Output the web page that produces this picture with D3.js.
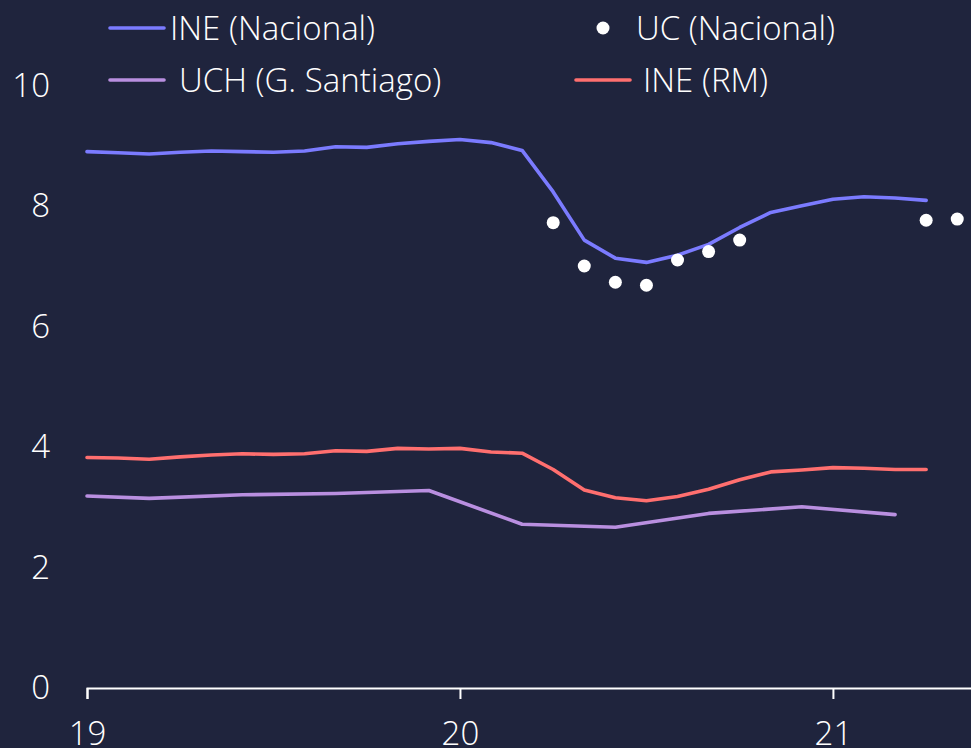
<!DOCTYPE html>
<html>
<head>
<meta charset="utf-8">
<script src="https://cdn.jsdelivr.net/npm/d3@7"></script>
<style>
  html, body { margin: 0; padding: 0; background: #1f243d; overflow: hidden; }
  text { font-family: "Open Sans", sans-serif; font-weight: 300; fill: #fff; }
</style>
</head>
<body>
<div class="canvas"></div>
<script>
/**
 * Data (monthly, index 0 = Jan 2019)
 */
const yearLabels = ["19", "20", "21"]
const ineNacional = [8.91, 8.89, 8.87, 8.90, 8.92, 8.91, 8.90, 8.92, 8.99, 8.98, 9.04, 9.08,
    9.11, 9.06, 8.93, 8.24, 7.44, 7.14, 7.07, 7.19, 7.37, 7.65, 7.90, 8.01,
    8.12, 8.16, 8.14, 8.10]
const ineRM = [3.83, 3.82, 3.80, 3.84, 3.87, 3.89, 3.88, 3.89, 3.94, 3.93, 3.98, 3.97,
    3.98, 3.92, 3.90, 3.63, 3.29, 3.16, 3.11, 3.18, 3.30, 3.46, 3.59, 3.62,
    3.66, 3.65, 3.63, 3.63]
const uchSantiago = [3.19, null, 3.15, null, null, 3.21, null, null, 3.23, null, null, 3.28,
    null, null, 2.72, null, null, 2.67, null, null, 2.90, null, null, 3.01,
    null, null, 2.88]
const ucNacional = [null, null, null, null, null, null, null, null, null, null, null, null,
    null, null, null, 7.73, 7.01, 6.74, 6.69, 7.11, 7.25, 7.44, null, null,
    null, null, null, 7.77, 7.79]

/**
 * Dimension setup
 */
const dims = { width: 971, height: 748 }
const plot = { left: 87, top: 86, bottom: 688 }
const fontSize = "33px"

const svg = d3.select(".canvas")
    .append("svg")
    .attr("width", dims.width)
    .attr("height", dims.height)

svg.append("rect")
    .attr("width", dims.width)
    .attr("height", dims.height)
    .attr("fill", "#1f243d")

/**
 * Scales
 */
const x = d3.scaleLinear()
    .domain([0, 36])
    .range([plot.left, plot.left + 36 * 31.08])

const y = d3.scaleLinear()
    .domain([0, 10])
    .range([plot.bottom, plot.top])

// keep points that have a value
const toPoints = arr => arr.map((v, i) => ({ m: i, v: v })).filter(d => d.v !== null)

const line = d3.line()
    .x(d => x(d.m))
    .y(d => y(d.v))

/**
 * Series
 */
const series = [
    { data: ineNacional, color: "#7b7bff" },
    { data: uchSantiago, color: "#b98fe0" },
    { data: ineRM, color: "#ff6f6f" }
]

series.forEach(s => {
    svg.append("path")
        .datum(toPoints(s.data))
        .attr("fill", "none")
        .attr("stroke", s.color)
        .attr("stroke-width", 3.6)
        .attr("stroke-linejoin", "round")
        .attr("stroke-linecap", "round")
        .attr("d", line)
})

svg.selectAll("circle.uc")
    .data(toPoints(ucNacional))
    .enter()
    .append("circle")
        .attr("class", "uc")
        .attr("cx", d => x(d.m))
        .attr("cy", d => y(d.v))
        .attr("r", 6.5)
        .attr("fill", "#fff")

/**
 * Axes
 */
const xAxis = d3.axisBottom(x)
    .tickValues([0, 12, 24])
    .tickFormat((d, i) => yearLabels[i])
    .tickSizeInner(11)
    .tickSizeOuter(11)
    .tickPadding(23)

const xg = svg.append("g")
    .attr("transform", `translate(0,${plot.bottom})`)
    .call(xAxis)

xg.selectAll("path, line").attr("stroke", "#fff").attr("stroke-width", 2)
xg.selectAll("text")
    .attr("fill", "#fff")
    .style("font-size", fontSize)
    .style("font-family", "'Open Sans', sans-serif")
    .style("font-weight", 300)

const yAxis = d3.axisLeft(y)
    .tickValues([0, 2, 4, 6, 8, 10])
    .tickSize(0)
    .tickPadding(37)

const yg = svg.append("g")
    .attr("transform", `translate(${plot.left},0)`)
    .call(yAxis)

yg.select(".domain").remove()
yg.selectAll("text")
    .attr("fill", "#fff")
    .style("font-size", fontSize)
    .style("font-family", "'Open Sans', sans-serif")
    .style("font-weight", 300)

/**
 * Legend
 */
const legendItems = [
    { label: "INE (Nacional)", color: "#7b7bff", type: "line", x: 110, y: 28, tx: 170 },
    { label: "UC (Nacional)", color: "#fff", type: "dot", x: 603, y: 28, tx: 636 },
    { label: "UCH (G. Santiago)", color: "#b98fe0", type: "line", x: 110, y: 80, tx: 179 },
    { label: "INE (RM)", color: "#ff6f6f", type: "line", x: 576, y: 80, tx: 643 }
]

const legend = svg.append("g")

legendItems.forEach(d => {
    if (d.type === "line") {
        legend.append("line")
            .attr("x1", d.x).attr("x2", d.x + 54)
            .attr("y1", d.y).attr("y2", d.y)
            .attr("stroke", d.color)
            .attr("stroke-width", 3.6)
            .attr("stroke-linecap", "round")
    } else {
        legend.append("circle")
            .attr("cx", d.x).attr("cy", d.y)
            .attr("r", 6.5)
            .attr("fill", d.color)
    }
    legend.append("text")
        .attr("x", d.tx)
        .attr("y", d.y)
        .attr("dy", "0.35em")
        .style("font-size", fontSize)
        .text(d.label)
})
</script>
</body>
</html>
